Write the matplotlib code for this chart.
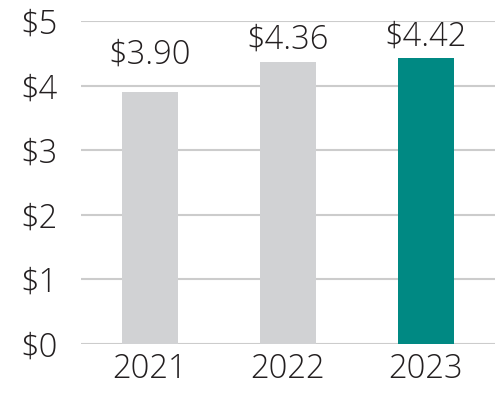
import matplotlib
matplotlib.use("Agg")
import matplotlib.pyplot as plt

years = ["2021", "2022", "2023"]
values = [3.90, 4.36, 4.42]
labels = ["$3.90", "$4.36", "$4.42"]
colors = ["#d1d2d4", "#d1d2d4", "#008983"]
yticks = [0, 1, 2, 3, 4, 5]
ytick_labels = ["$0", "$1", "$2", "$3", "$4", "$5"]
label_offsets_pt = [15, 4, 3.5]

plt.rcParams['font.family'] = ['Open Sans', 'DejaVu Sans']
text_color = "#231f20"

fig = plt.figure(figsize=(4.95, 3.94), dpi=100)
ax = fig.add_axes([81/495, 1-344/394, 1-81/495, (344-21)/394])

x = list(range(len(years)))
ax.bar(x, values, width=0.4, color=colors, zorder=3)
for xi, v, lab, off in zip(x, values, labels, label_offsets_pt):
    ax.annotate(lab.replace("$", r"\$"), (xi, v), xytext=(0, off), textcoords="offset points",
                ha="center", va="bottom", fontsize=23.5, color=text_color,
                fontweight="light", annotation_clip=False)

ax.set_xlim(-0.5, 2.5)
ax.set_ylim(0, 5)
ax.set_yticks(yticks)
ax.set_yticklabels([t.replace("$", r"\$") for t in ytick_labels])
ax.set_xticks(x)
ax.set_xticklabels(years)
ax.grid(axis="y", color="#cccccc", linewidth=1.5, zorder=0)
for s in ax.spines.values():
    s.set_visible(False)
ax.tick_params(axis="both", length=0, labelsize=23.5, colors=text_color)
ax.tick_params(axis="y", pad=17)
ax.tick_params(axis="x", pad=6)
for t in ax.get_xticklabels() + ax.get_yticklabels():
    t.set_fontweight("light")

fig.savefig("out.png", dpi=100)
